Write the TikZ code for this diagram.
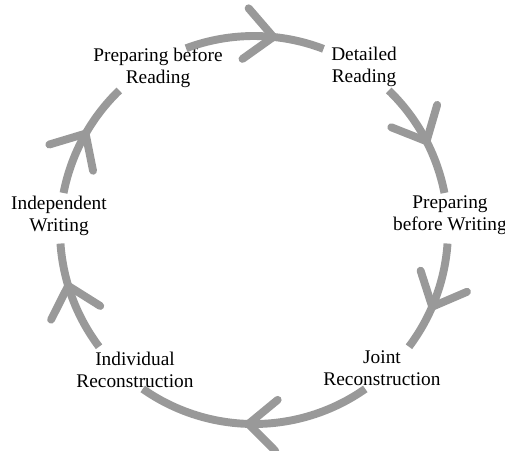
\documentclass[tikz,border=0pt]{standalone}
\usepackage{fontspec}
\setmainfont{Liberation Serif}
\usetikzlibrary{arrows.meta,decorations.markings}

\begin{document}
\begin{tikzpicture}[
  ring/.style={line width=4.5pt, draw=black!40},
  stage/.style={align=center, font=\fontsize{11}{12.5}\selectfont, inner sep=1pt},
  tip at/.style={postaction={decorate}, decoration={markings,
    mark=at position #1 with {\arrow[black!40, line width=4.5pt]{Straight Barb[length=0.56cm, width=1.02cm, round]}}}}
]
\def\R{3.88}
\useasboundingbox (-5.08,-4.4) rectangle (5.02,4.6);

% Stages
\node[stage] (prepread) at (-1.92,3.24) {Preparing before\\Reading};
\node[stage] (detail) at (2.2,3.26) {Detailed\\Reading};
\node[stage] (prepwrite) at (3.92,0.3) {Preparing\\before Writing};
\node[stage] (joint) at (2.56,-2.76) {Joint\\Reconstruction};
\node[stage] (indiv) at (-2.38,-2.8) {Individual\\Reconstruction};
\node[stage] (indep) at (-3.9,0.28) {Independent\\Writing};

% Start points of the arcs
\coordinate (a1) at (110.5:\R);
\coordinate (a2) at (46:\R);
\coordinate (a3) at (-4:\R);
\coordinate (a4) at (-55:\R);
\coordinate (a5) at (-143:\R);
\coordinate (a6) at (169:\R);

% Cycle
\draw[ring, tip at=0.66] (a1) arc[start angle=110.5, end angle=69, radius=\R];
\draw[ring, tip at=0.57] (a2) arc[start angle=46, end angle=11, radius=\R];
\draw[ring, tip at=0.62] (a3) arc[start angle=-4, end angle=-37, radius=\R];
\draw[ring, tip at=0.54] (a4) arc[start angle=-55, end angle=-125, radius=\R];
\draw[ring, tip at=0.65] (a5) arc[start angle=-143, end angle=-176, radius=\R];
\draw[ring, tip at=0.57] (a6) arc[start angle=169, end angle=134, radius=\R];

\end{tikzpicture}
\end{document}
